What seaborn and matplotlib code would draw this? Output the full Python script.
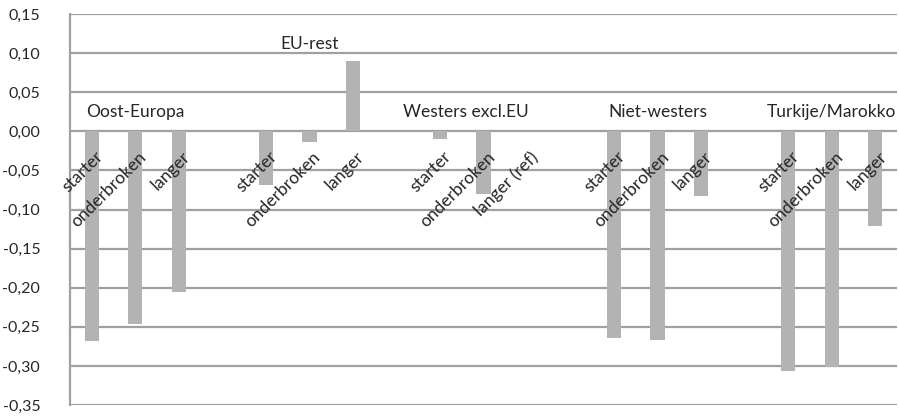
import numpy as np
import pandas as pd
import matplotlib.pyplot as plt
import seaborn as sns
from matplotlib.ticker import FuncFormatter

# data
groepen = ["Oost-Europa", "EU-rest", "Westers excl.EU", "Niet-westers", "Turkije/Marokko"]
duur_labels = [
    ["starter", "onderbroken", "langer"],
    ["starter", "onderbroken", "langer"],
    ["starter", "onderbroken", "langer (ref)"],
    ["starter", "onderbroken", "langer"],
    ["starter", "onderbroken", "langer"],
]
oost_europa = [-0.268, -0.247, -0.206]
eu_rest = [-0.069, -0.014, 0.090]
westers = [-0.010, -0.080, 0.0]
niet_westers = [-0.264, -0.267, -0.083]
turkije_marokko = [-0.306, -0.301, -0.121]
waarden = [oost_europa, eu_rest, westers, niet_westers, turkije_marokko]

rows = []
for g, (naam, labels, vals) in enumerate(zip(groepen, duur_labels, waarden)):
    for b, (lab, v) in enumerate(zip(labels, vals)):
        rows.append({"groep": naam, "duur": lab, "pos": 4 * g + b, "waarde": v})
df = pd.DataFrame(rows)

sns.set_style("white")
plt.rcParams["font.family"] = ["Lato", "DejaVu Sans"]

fig, ax = plt.subplots(figsize=(8.99, 4.18), dpi=100)
fig.subplots_adjust(left=70 / 899, right=897 / 899, bottom=13 / 418, top=404 / 418)

sns.barplot(data=df, x="pos", y="waarde", native_scale=True, width=0.33,
            color="#b3b3b3", saturation=1, linewidth=0, ax=ax)

ax.set_xlim(-0.5, 18.5)
ax.set_ylim(-0.35, 0.15)
ax.set_yticks(np.round(np.arange(-0.35, 0.151, 0.05), 2))
ax.yaxis.set_major_formatter(
    FuncFormatter(lambda v, _: f"{round(v, 2) + 0.0:.2f}".replace(".", ",")))
ax.grid(axis="y", color="#a0a0a0", lw=1.6)
ax.set_axisbelow(True)
for s in ["top", "right", "bottom"]:
    ax.spines[s].set_visible(False)
ax.spines["left"].set_color("#a0a0a0")
ax.spines["left"].set_linewidth(1.6)
ax.tick_params(left=False, bottom=False, labelbottom=False, labelsize=11.5, pad=18)
ax.set_xlabel("")
ax.set_ylabel("")

# rotated duration labels next to each bar
for _, r in df.iterrows():
    ax.text(r["pos"] + 0.07, -0.022, r["duur"], rotation=45, rotation_mode="anchor",
            ha="right", va="top", fontsize=12.5)

# group names
groep_x = [1, 5, 8.6, 13, 17]
groep_y = [0.025, 0.1115, 0.025, 0.025, 0.025]
for naam, gx, gy in zip(groepen, groep_x, groep_y):
    ax.text(gx, gy, naam, ha="center", va="center", fontsize=12.5)

fig.savefig("out.png", dpi=100)
